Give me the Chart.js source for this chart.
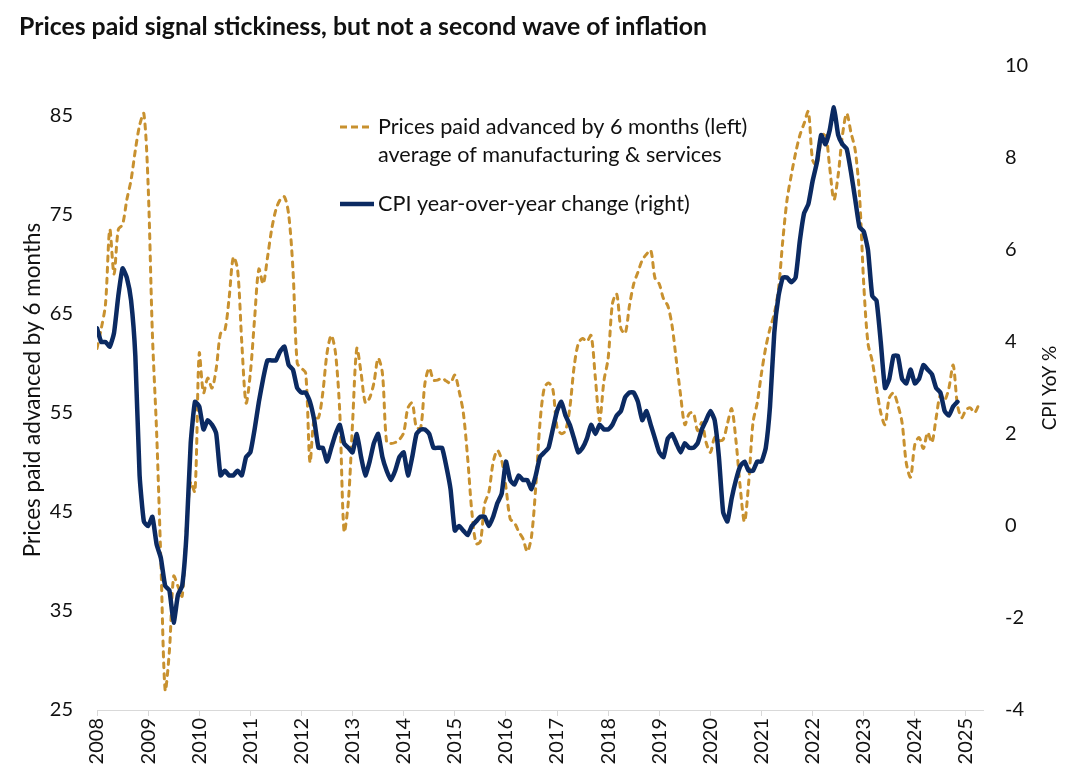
<!DOCTYPE html>
<html>
<head>
<meta charset="utf-8">
<script src="https://cdn.jsdelivr.net/npm/chart.js@4.4.1/dist/chart.umd.min.js"></script>
<style>
  html, body { margin:0; padding:0; background:#fff; }
  #wrap { width:1080px; height:783px; position:relative; }
</style>
</head>
<body>
<div id="wrap"><canvas id="chart" width="1080" height="783"></canvas></div>
<script>
// tick labels
const years = [2008,2009,2010,2011,2012,2013,2014,2015,2016,2017,2018,2019,2020,2021,2022,2023,2024,2025];
const leftTicks = [25,35,45,55,65,75,85];
const rightTicks = [-4,-2,0,2,4,6,8,10];

// monthly, from Jan 2008 (left axis), prices paid advanced by 6 months
const pricesPaid = [
  61.5, 63.5, 66, 73.5, 69, 73.5, 74, 76.5, 78.5, 81.5, 84, 85.2,
  78, 63, 53, 40, 27, 31, 38.5, 37.5, 36.5, 43.5, 48, 47,
  61, 57, 58.5, 57.5, 59.5, 63, 63.3, 66.5, 70.7, 69.5, 62, 56,
  59, 64.5, 69.5, 68, 70.6, 73.5, 75.5, 76.5, 76.8, 75, 69.5, 60,
  59.5, 59, 50, 54.5, 54.5, 57, 61, 62.8, 61, 55, 43, 46,
  54, 61.5, 59, 56, 56.5, 58, 60.5, 59, 52, 51.9, 52, 52.3,
  53, 55.5, 56, 53.5, 53.5, 58, 59.5, 58.3, 58.3, 58.5, 58.2, 58,
  58.8, 57.2, 55, 50.5, 45, 41.8, 42, 45.8, 47, 50, 51.2, 50.2,
  47.5, 44.3, 43.9, 43, 42.3, 41, 42.5, 47.5, 54, 57.5, 58, 57.4,
  53.5, 52.9, 53.2, 55.5, 59.6, 62, 62.5, 62.2, 62.8, 58.5, 54.2, 58.2,
  60.5, 66, 67, 63.5, 63, 65.8, 68, 69.2, 70.4, 71, 71.4, 68.6,
  68, 66.5, 65.8, 63.8, 60.3, 56.8, 53.8, 54.9, 55, 53.2, 54, 52,
  51, 52.5, 52.2, 52.3, 53.9, 55.4, 52.2, 47.5, 44, 48, 54, 56,
  59, 61.6, 63.5, 65, 67.5, 72.4, 76.5, 79, 81.2, 83, 84.2, 85.4,
  80.5, 80, 82.5, 83.3, 79.8, 76.5, 79, 83, 85.2, 83.3, 81.5, 77,
  68, 62, 60.2, 57.5, 55, 53.8, 56.5, 57, 55.8, 54, 49.9, 48.5,
  51.8, 52.5, 51.4, 53, 52, 54.5, 56.8, 56.3, 57.5, 59.8, 55.8, 54.5,
  55.3, 55.5, 55, 55.8
];

// monthly, from Jan 2008 (right axis), CPI YoY %
const cpiYoY = [
  4.3, 4.0, 4.0, 3.9, 4.2, 5.0, 5.6, 5.4, 4.9, 3.7, 1.1, 0.1,
  0.0, 0.2, -0.4, -0.7, -1.3, -1.4, -2.1, -1.5, -1.3, -0.2, 1.8, 2.7,
  2.6, 2.1, 2.3, 2.2, 2.0, 1.1, 1.2, 1.1, 1.1, 1.2, 1.1, 1.5,
  1.6, 2.1, 2.7, 3.2, 3.6, 3.6, 3.6, 3.8, 3.9, 3.5, 3.4, 3.0,
  2.9, 2.9, 2.7, 2.3, 1.7, 1.7, 1.4, 1.7, 2.0, 2.2, 1.8, 1.7,
  1.6, 2.0, 1.5, 1.1, 1.4, 1.8, 2.0, 1.5, 1.2, 1.0, 1.2, 1.5,
  1.6, 1.1, 1.5, 2.0, 2.1, 2.1, 2.0, 1.7, 1.7, 1.7, 1.3, 0.8,
  -0.1, 0.0, -0.1, -0.2, 0.0, 0.1, 0.2, 0.2, 0.0, 0.2, 0.5, 0.7,
  1.4, 1.0, 0.9, 1.1, 1.0, 1.0, 0.8, 1.1, 1.5, 1.6, 1.7, 2.1,
  2.5, 2.7, 2.4, 2.2, 1.9, 1.6, 1.7, 1.9, 2.2, 2.0, 2.2, 2.1,
  2.1, 2.2, 2.4, 2.5, 2.8, 2.9, 2.9, 2.7, 2.3, 2.5, 2.2, 1.9,
  1.6, 1.5, 1.9, 2.0, 1.8, 1.6, 1.8, 1.7, 1.7, 1.8, 2.1, 2.3,
  2.5, 2.3, 1.5, 0.3, 0.1, 0.6, 1.0, 1.3, 1.4, 1.2, 1.2, 1.4,
  1.4, 1.7, 2.6, 4.2, 5.0, 5.4, 5.4, 5.3, 5.4, 6.2, 6.8, 7.0,
  7.5, 7.9, 8.5, 8.3, 8.6, 9.1, 8.5, 8.3, 8.2, 7.7, 7.1, 6.5,
  6.4, 6.0, 5.0, 4.9, 4.0, 3.0, 3.2, 3.7, 3.7, 3.2, 3.1, 3.4,
  3.1, 3.2, 3.5, 3.4, 3.3, 3.0, 2.9, 2.5, 2.4, 2.6, 2.7
];

const titleText = "Prices paid signal stickiness, but not a second wave of inflation";
const leftTitle = "Prices paid advanced by 6 months";
const rightTitle = "CPI YoY %";
const legendLines = ["Prices paid advanced by 6 months (left)", "average of manufacturing & services", "CPI year-over-year change (right)"];

const ORANGE = "#C8912F";
const NAVY = "#0B2A62";
const FONT = "Lato";

// month index -> point
const toPts = arr => arr.map((v,i)=>({ x:i, y:v }));

const textPlugin = {
  id: "texts",
  afterDraw(chart){
    const ctx = chart.ctx;
    ctx.save();
    ctx.fillStyle = "#111";
    ctx.textBaseline = "middle";
    ctx.textAlign = "left";

    // title
    ctx.font = "bold 24.8px " + FONT;
    ctx.fillText(titleText, 19, 27);

    // axis titles
    const midY = (chart.chartArea.top + chart.chartArea.bottom)/2;
    ctx.font = "22.5px " + FONT;
    ctx.textAlign = "center";
    ctx.save();
    ctx.translate(33, midY + 2);
    ctx.rotate(-Math.PI/2);
    ctx.fillText(leftTitle, 0, 0);
    ctx.restore();
    ctx.save();
    ctx.translate(1050, midY);
    ctx.rotate(-Math.PI/2);
    ctx.font = "19px " + FONT;
    ctx.fillText(rightTitle, 0, 0);
    ctx.restore();

    // legend
    ctx.textAlign = "left";
    ctx.font = "21.6px " + FONT;
    ctx.fillText(legendLines[0], 378, 127);
    ctx.fillText(legendLines[1], 378, 155);
    ctx.fillText(legendLines[2], 378, 204);

    ctx.strokeStyle = ORANGE;
    ctx.lineWidth = 3;
    ctx.setLineDash([7,4]);
    ctx.beginPath(); ctx.moveTo(340,127); ctx.lineTo(373,127); ctx.stroke();
    ctx.setLineDash([]);
    ctx.strokeStyle = NAVY;
    ctx.lineWidth = 4.5;
    ctx.beginPath(); ctx.moveTo(340,204); ctx.lineTo(374,204); ctx.stroke();
    ctx.restore();
  }
};

new Chart(document.getElementById("chart"), {
  type: "line",
  data: {
    datasets: [
      { label: legendLines[2], data: toPts(cpiYoY), yAxisID: "y2", borderColor: NAVY, borderWidth: 4.5,
        pointRadius: 0, tension: 0.15, borderJoinStyle: "round", borderCapStyle: "round", order: 0 },
      { label: legendLines[0], data: toPts(pricesPaid), yAxisID: "y", borderColor: ORANGE, borderWidth: 3,
        borderDash: [5,6], borderCapStyle: "round", pointRadius: 0, tension: 0.3, order: 1 }
    ]
  },
  options: {
    responsive: false,
    animation: false,
    layout: { padding: { top: 66, left: 0, right: 0, bottom: 0 } },
    plugins: { legend: { display: false }, tooltip: { enabled: false }, title: { display: false } },
    scales: {
      x: {
        type: "linear", min: 0, max: 208,
        afterBuildTicks: a => { a.ticks = years.map((y,k)=>({ value: k*12 })); },
        afterFit: a => { a.height = 73; },
        grid: { display: true, drawOnChartArea: false, drawTicks: true, tickLength: 6, color: "#d9d9d9" },
        border: { display: true, color: "#d9d9d9", width: 1 },
        ticks: { autoSkip: false, maxRotation: 90, minRotation: 90, padding: 2, color: "#111",
          font: { family: FONT, size: 20 }, callback: v => years[Math.round(v/12)] }
      },
      y: {
        position: "left", min: 25, max: 90,
        afterBuildTicks: a => { a.ticks = leftTicks.map(v=>({ value: v })); },
        afterFit: a => { a.width = 97; },
        grid: { display: false }, border: { display: false },
        ticks: { padding: 16, color: "#111", font: { family: FONT, size: 20 } }
      },
      y2: {
        position: "right", min: -4, max: 10,
        afterBuildTicks: a => { a.ticks = rightTicks.map(v=>({ value: v })); },
        afterFit: a => { a.width = 97; },
        grid: { display: false }, border: { display: false },
        ticks: { padding: 14, color: "#111", font: { family: FONT, size: 20 } }
      }
    }
  },
  plugins: [textPlugin]
});
</script>
</body>
</html>
